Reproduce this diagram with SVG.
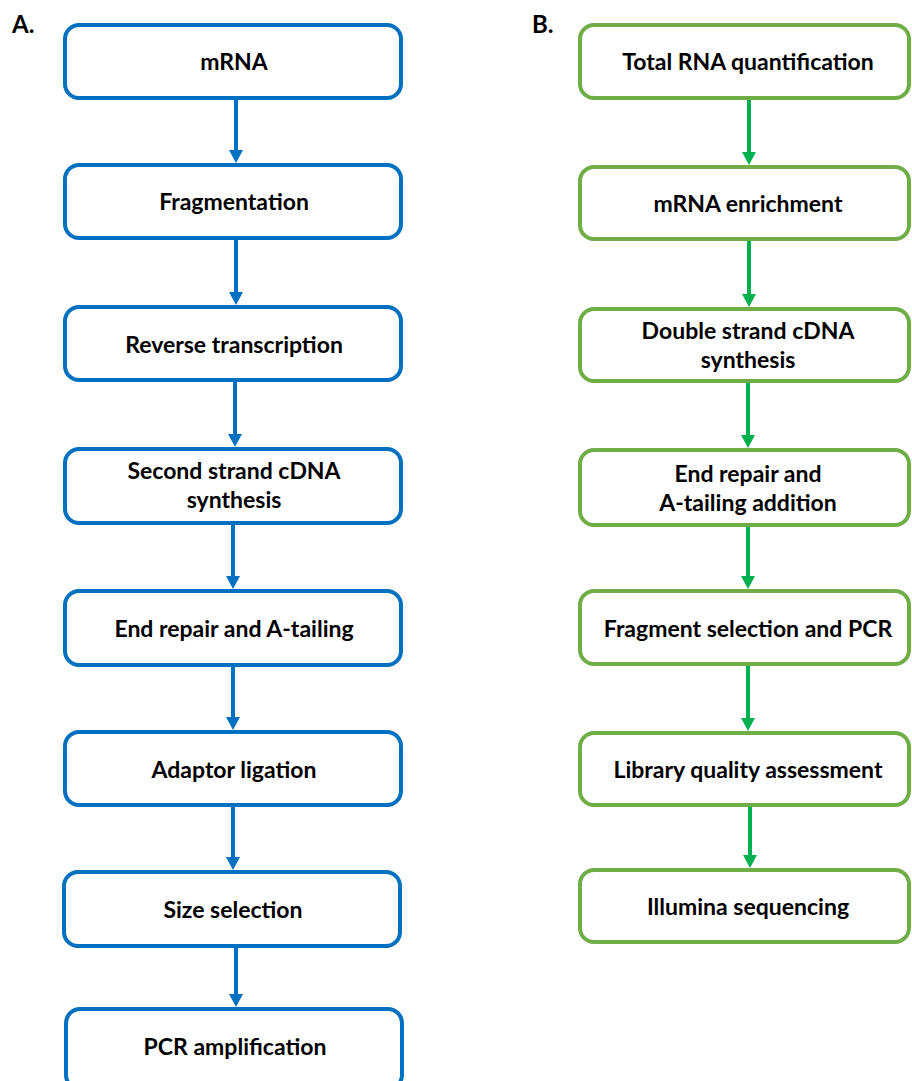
<svg xmlns="http://www.w3.org/2000/svg" width="912" height="1081" viewBox="0 0 912 1081">
  <style>
    .bA { fill: #ffffff; stroke: #0070C0; stroke-width: 4; }
    .bB { fill: #ffffff; stroke: #70AD47; stroke-width: 4; }
    .t { font-family: Lato, "Liberation Sans", sans-serif; font-weight: bold; font-size: 23px; fill: #000000; text-anchor: middle; }
    .lbl { font-family: Lato, "Liberation Sans", sans-serif; font-weight: bold; font-size: 24px; fill: #000000; }
    .cA { stroke: #0070C0; stroke-width: 4; fill: none; marker-end: url(#hA); }
    .cB { stroke: #00B050; stroke-width: 4; fill: none; marker-end: url(#hB); }
  </style>
  <defs>
    <marker id="hA" markerUnits="userSpaceOnUse" markerWidth="14" markerHeight="14" viewBox="0 0 14 14" refX="1" refY="7" orient="auto">
      <path d="M0,0 L13,7 L0,14 z" fill="#0070C0"/>
    </marker>
    <marker id="hB" markerUnits="userSpaceOnUse" markerWidth="14" markerHeight="14" viewBox="0 0 14 14" refX="1" refY="7" orient="auto">
      <path d="M0,0 L13,7 L0,14 z" fill="#00B050"/>
    </marker>
  </defs>
  <rect x="0" y="0" width="912" height="1081" fill="#ffffff"/>

  <text class="lbl" x="12" y="33">A.</text>
  <text class="lbl" x="532" y="33">B.</text>

  <g id="connectors">
    <line class="cA" x1="236" y1="100" x2="236" y2="151"/>
    <line class="cA" x1="236" y1="240" x2="236" y2="293"/>
    <line class="cA" x1="235" y1="382" x2="235" y2="435"/>
    <line class="cA" x1="233" y1="525" x2="233" y2="577"/>
    <line class="cA" x1="233" y1="667" x2="233" y2="718"/>
    <line class="cA" x1="233" y1="807" x2="233" y2="858"/>
    <line class="cA" x1="236" y1="948" x2="236" y2="995"/>

    <line class="cB" x1="749" y1="100" x2="749" y2="153"/>
    <line class="cB" x1="749" y1="241" x2="749" y2="295"/>
    <line class="cB" x1="748" y1="383" x2="748" y2="436"/>
    <line class="cB" x1="748" y1="527" x2="748" y2="577"/>
    <line class="cB" x1="748" y1="666" x2="748" y2="719"/>
    <line class="cB" x1="750" y1="807" x2="750" y2="856"/>
  </g>

  <g id="a1"><rect class="bA" x="65" y="25" width="336" height="73" rx="14"/><text class="t" x="234" y="70">mRNA</text></g>
  <g id="a2"><rect class="bA" x="65" y="165" width="336" height="73" rx="14"/><text class="t" x="234" y="210">Fragmentation</text></g>
  <g id="a3"><rect class="bA" x="65" y="307" width="336" height="73" rx="14"/><text class="t" x="234" y="353">Reverse transcription</text></g>
  <g id="a4"><rect class="bA" x="65" y="449" width="336" height="74" rx="14"/><text class="t" x="234" y="479">Second strand cDNA</text><text class="t" x="234" y="508">synthesis</text></g>
  <g id="a5"><rect class="bA" x="65" y="591" width="336" height="74" rx="14"/><text class="t" x="234" y="637">End repair and A-tailing</text></g>
  <g id="a6"><rect class="bA" x="65" y="732" width="336" height="73" rx="14"/><text class="t" x="234" y="778">Adaptor ligation</text></g>
  <g id="a7"><rect class="bA" x="64" y="872" width="336" height="74" rx="14"/><text class="t" x="233" y="918">Size selection</text></g>
  <g id="a8"><rect class="bA" x="66" y="1009" width="336" height="80" rx="14"/><text class="t" x="235" y="1055">PCR amplification</text></g>

  <g id="b1"><rect class="bB" x="580" y="25" width="329" height="73" rx="14"/><text class="t" x="748" y="70">Total RNA quantification</text></g>
  <g id="b2"><rect class="bB" x="580" y="167" width="329" height="72" rx="14"/><text class="t" x="748" y="212">mRNA enrichment</text></g>
  <g id="b3"><rect class="bB" x="580" y="309" width="329" height="72" rx="14"/><text class="t" x="748" y="339">Double strand cDNA</text><text class="t" x="748" y="368">synthesis</text></g>
  <g id="b4"><rect class="bB" x="580" y="450" width="329" height="75" rx="14"/><text class="t" x="748" y="482">End repair and</text><text class="t" x="748" y="511">A-tailing addition</text></g>
  <g id="b5"><rect class="bB" x="580" y="591" width="329" height="73" rx="14"/><text class="t" x="748" y="637">Fragment selection and PCR</text></g>
  <g id="b6"><rect class="bB" x="580" y="733" width="329" height="72" rx="14"/><text class="t" x="748" y="778">Library quality assessment</text></g>
  <g id="b7"><rect class="bB" x="580" y="870" width="329" height="72" rx="14"/><text class="t" x="748" y="915">Illumina sequencing</text></g>
</svg>
